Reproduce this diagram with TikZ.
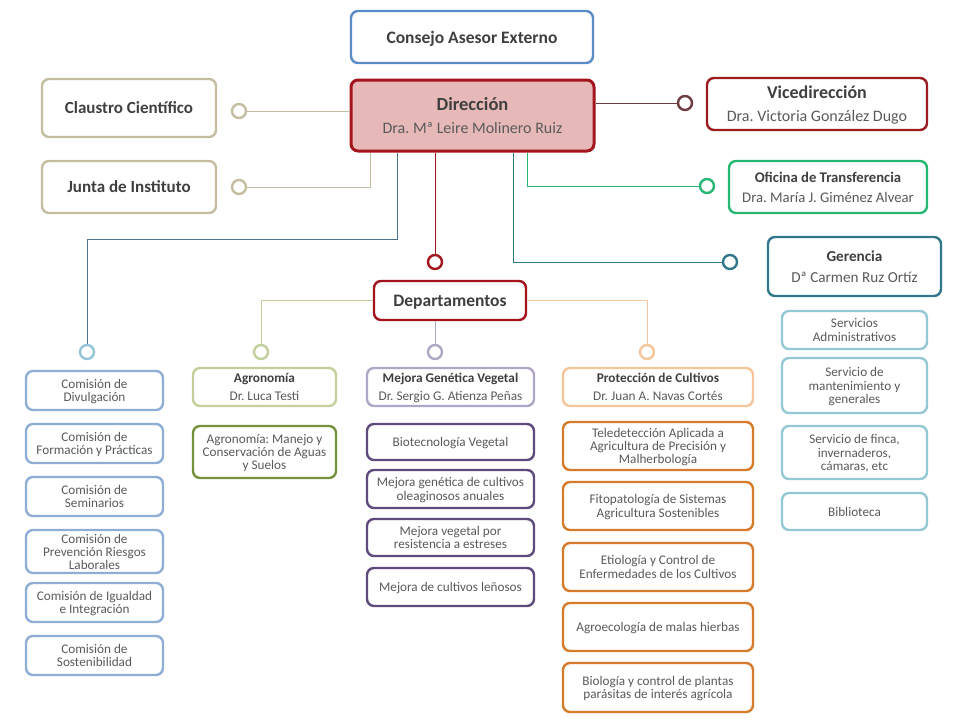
\documentclass[tikz,border=0pt]{standalone}
\usepackage{fontspec}
\setmainfont{Carlito}
\frenchspacing
\definecolor{tan}{HTML}{C4BD9F}
\definecolor{dred}{HTML}{A3141C}
\definecolor{dfill}{HTML}{E6B9B8}
\definecolor{cblue}{HTML}{5B8CC8}
\definecolor{vred}{HTML}{9B1B1F}
\definecolor{vline}{HTML}{6E3B40}
\definecolor{ogreen}{HTML}{27B673}
\definecolor{gteal}{HTML}{31788A}
\definecolor{comblue}{HTML}{8EAED4}
\definecolor{lblue}{HTML}{92C5D9}
\definecolor{steel}{HTML}{4D7390}
\definecolor{agl}{HTML}{C3D09C}
\definecolor{agd}{HTML}{76923C}
\definecolor{pul}{HTML}{B0A7C7}
\definecolor{pud}{HTML}{5E4A7C}
\definecolor{orl}{HTML}{F5C59C}
\definecolor{ord}{HTML}{D57B2A}
\definecolor{gsub}{HTML}{93C8D4}
\definecolor{ttl}{HTML}{3F3F3F}
\definecolor{sub}{HTML}{5A5A5A}
\begin{document}
\begin{tikzpicture}[x=1pt,y=-1pt,
  bx/.style={draw, rounded corners=7pt, line width=2.4pt, fill=white, align=center, inner sep=1pt, text=sub, text depth=0pt},
  ring/.style={circle, draw, line width=2.4pt, fill=white, minimum size=14pt, inner sep=0pt},
  ln/.style={line width=1pt},
  big/.style={font=\fontsize{17.5}{20}\selectfont\bfseries, text=ttl},
  head/.style={font=\fontsize{16}{23}\selectfont},
  sm/.style={font=\fontsize{13.2}{13.4}\selectfont},
  dh/.style={font=\fontsize{13.3}{18}\selectfont},
  com/.style={bx, draw=comblue, minimum width=137pt, sm},
  mej/.style={bx, draw=pud, minimum width=167pt, sm},
  pro/.style={bx, draw=ord, minimum width=190pt, sm},
  ger/.style={bx, draw=gsub, minimum width=145pt, sm}
]
\useasboundingbox (0,0) rectangle (960,720);
% top
\node[bx, draw=cblue, minimum width=242pt, minimum height=52pt, big] (consejo) at (472,37) {Consejo Asesor Externo};
\node[bx, draw=dred, fill=dfill, line width=3pt, minimum width=243pt, minimum height=71pt, head] (dir) at (472.5,115.5)
  {{\fontsize{18.5}{23}\selectfont\bfseries\color{ttl}Dirección}\\Dra. Mª Leire Molinero Ruiz};
\node[bx, draw=tan, minimum width=174pt, minimum height=58pt, big, font=\fontsize{17}{20}\selectfont\bfseries] (claustro) at (129,108) {Claustro Científico};
\node[bx, draw=tan, minimum width=174pt, minimum height=52pt, big, font=\fontsize{17}{20}\selectfont\bfseries] (junta) at (129,187) {Junta de Instituto};
\node[bx, draw=vred, minimum width=220pt, minimum height=52pt, head] (vice) at (817,104)
  {{\fontsize{18}{23}\selectfont\bfseries\color{ttl}Vicedirección}\\Dra. Victoria González Dugo};
\node[bx, draw=ogreen, minimum width=198pt, minimum height=52pt, font=\fontsize{14.7}{20}\selectfont] (ofi) at (828,187)
  {{\bfseries\color{ttl}Oficina de Transferencia}\\Dra. María J. Giménez Alvear};
\node[bx, draw=gteal, minimum width=173pt, minimum height=59pt, font=\fontsize{15.2}{21}\selectfont] (ger) at (854.5,266.5)
  {{\bfseries\color{ttl}Gerencia}\\Dª Carmen Ruz Ortíz};
\node[bx, draw=dred, minimum width=152pt, minimum height=39pt, big] (dep) at (450,300.5) {Departamentos};
% rings
\node[ring, draw=tan] (rc) at (239,111) {};
\node[ring, draw=tan] (rj) at (239,187) {};
\node[ring, draw=vline] (rv) at (685,103) {};
\node[ring, draw=ogreen] (ro) at (707,186) {};
\node[ring, draw=gteal] (rg) at (730,262) {};
\node[ring, draw=dred] (rd) at (435,262) {};
\node[ring, draw=lblue] (rcom) at (87,352) {};
\node[ring, draw=agl] (ragr) at (261,352) {};
\node[ring, draw=pul] (rmej) at (435,352) {};
\node[ring, draw=orl] (rpro) at (647,352) {};
% connectors
\draw[ln, tan] (dir.west |- rc) -- (rc);
\draw[ln, tan] (dir.south -| 370,0) |- (rj);
\draw[ln, steel] (dir.south -| 397,0) |- (87,239) -- (rcom);
\draw[ln, dred] (dir.south -| rd) -- (rd);
\draw[ln, vline] (dir.east |- rv) -- (rv);
\draw[ln, ogreen] (dir.south -| 527,0) |- (ro);
\draw[ln, gteal] (dir.south -| 513,0) |- (rg);
\draw[ln, agl] (dep.west) -| (ragr);
\draw[ln, pul] (dep.south -| rmej) -- (rmej);
\draw[ln, orl] (dep.east) -| (rpro);
% commissions
\node[com, minimum height=39pt] (c1) at (94.5,390.5) {Comisión de\\Divulgación};
\node[com, minimum height=39pt] (c2) at (94.5,443.5) {Comisión de\\Formación y Prácticas};
\node[com, minimum height=39pt] (c3) at (94.5,496.5) {Comisión de\\Seminarios};
\node[com, minimum height=43pt, font=\fontsize{13.2}{13}\selectfont] (c4) at (94.5,551.5) {Comisión de\\Prevención Riesgos\\Laborales};
\node[com, minimum height=39pt] (c5) at (94.5,602.5) {Comisión de Igualdad\\e Integración};
\node[com, minimum height=39pt] (c6) at (94.5,655.5) {Comisión de\\Sostenibilidad};
% agronomia
\node[bx, draw=agl, minimum width=143pt, minimum height=38pt, dh] (agr) at (264.5,387)
  {{\bfseries\color{ttl}Agronomía}\\Dr. Luca Testi};
\node[bx, draw=agd, minimum width=143pt, minimum height=52pt, sm] (agr1) at (264.5,452)
  {Agronomía: Manejo y\\Conservación de Aguas\\y Suelos};
% mejora
\node[bx, draw=pul, minimum width=167pt, minimum height=38pt, dh] (mej) at (450.5,387)
  {{\bfseries\color{ttl}Mejora Genética Vegetal}\\Dr. Sergio G. Atienza Peñas};
\node[mej, minimum height=36pt] (m1) at (450.5,442) {Biotecnología Vegetal};
\node[mej, minimum height=38pt] (m2) at (450.5,489) {Mejora genética de cultivos\\oleaginosos anuales};
\node[mej, minimum height=37pt] (m3) at (450.5,537.5) {Mejora vegetal por\\resistencia a estreses};
\node[mej, minimum height=38pt] (m4) at (450.5,587) {Mejora de cultivos leñosos};
% proteccion
\node[bx, draw=orl, minimum width=190pt, minimum height=38pt, dh] (pro) at (658,387)
  {{\bfseries\color{ttl}Protección de Cultivos}\\Dr. Juan A. Navas Cortés};
\node[pro, minimum height=48pt] (p1) at (658,446) {Teledetección Aplicada a\\Agricultura de Precisión y\\Malherbología};
\node[pro, minimum height=48pt] (p2) at (658,506) {Fitopatología de Sistemas\\Agricultura Sostenibles};
\node[pro, minimum height=48pt] (p3) at (658,567) {Etiología y Control de\\Enfermedades de los Cultivos};
\node[pro, minimum height=48pt] (p4) at (658,627) {Agroecología de malas hierbas};
\node[pro, minimum height=49pt] (p5) at (658,687.5) {Biología y control de plantas\\parásitas de interés agrícola};
% gerencia subs
\node[ger, minimum height=38pt] (g1) at (854.5,330) {Servicios\\Administrativos};
\node[ger, minimum height=55pt] (g2) at (854.5,385.5) {Servicio de\\mantenimiento y\\generales};
\node[ger, minimum height=53pt] (g3) at (854.5,452.5) {Servicio de finca,\\invernaderos,\\cámaras, etc};
\node[ger, minimum height=37pt] (g4) at (854.5,511.5) {Biblioteca};
\end{tikzpicture}
\end{document}
